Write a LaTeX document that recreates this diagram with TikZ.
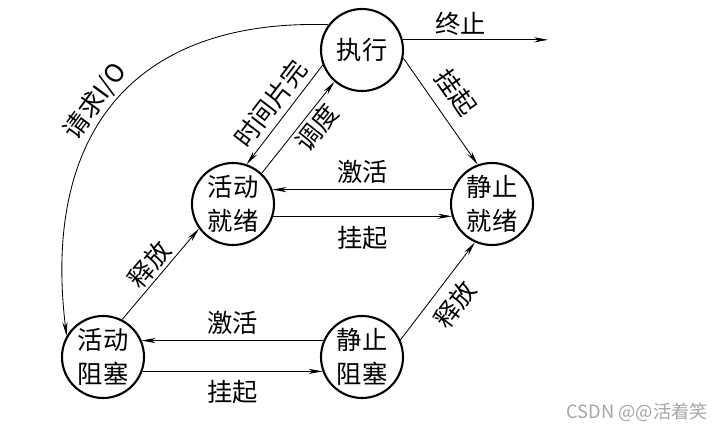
\documentclass[tikz,border=0pt]{standalone}
\usepackage{fontspec}
\setmainfont{Liberation Serif}
\newfontfamily\cjk{Noto Sans CJK SC}
\usetikzlibrary{arrows.meta}

\begin{document}
\begin{tikzpicture}[
  proc/.style={circle, draw, line width=1.5pt, minimum size=2.05cm, inner sep=0pt,
    align=center, font=\cjk\fontsize{18}{24}\selectfont},
  lbl/.style={font=\cjk\fontsize{18}{22}\selectfont, inner sep=2pt},
  arr/.style={-{Stealth[length=3.5mm,width=1.3mm]}, line width=0.6pt}
]
\useasboundingbox (0,0) rectangle (17.85,-10.75);

% Process states
\node[proc] (zx) at (9.05,-1.25) {执行};
\node[proc] (hj) at (5.825,-5.1) {活动\\就绪};
\node[proc] (jj) at (12.3,-5.1) {静止\\就绪};
\node[proc] (hz) at (2.575,-8.925) {活动\\阻塞};
\node[proc] (jz) at (9.05,-8.925) {静止\\阻塞};

% Exit
\coordinate (exit) at (13.7,-1.0);
\draw[arr] (zx.14) -- (zx.14 -| exit) node[lbl, pos=0.4, above=1pt] {终止};

% Running <-> active ready
\draw[arr] (zx.201) -- (hj.71) node[lbl, midway, sloped, above=2pt] {时间片完};
\draw[arr] (hj.47) -- (zx.229) node[lbl, pos=0.6, sloped, below] {调度};
\draw[arr] (zx.-11) -- (jj.110) node[lbl, pos=0.45, sloped, above=6pt] {挂起};

% Ready pair
\draw[arr] (jj.160) -- (hj.20) node[lbl, midway, above=2pt] {激活};
\draw[arr] (hj.-17) -- (jj.197) node[lbl, midway, below=5pt] {挂起};

% Blocked pair
\draw[arr] (jz.157) -- (hz.23) node[lbl, midway, above=2pt] {激活};
\draw[arr] (hz.-20) -- (jz.200) node[lbl, midway, below=4pt] {挂起};

% Release
\draw[arr] (hz.63) -- (hj.216) node[lbl, midway, sloped, above] {释放};
\draw[arr] (jz.24) -- (jj.246) node[lbl, midway, sloped, below=5pt] {释放};

% I/O request
\draw[arr] (zx.143) .. controls +(-4.825,0.15) and +(-0.625,5.125) .. (hz.150)
  node[lbl, pos=0.53, sloped, above] {请求I/O};

\node[font=\cjk\fontsize{13}{15}\selectfont, text=gray!70] (mark) at (15.93,-10.3) {CSDN @@活着笑};

\end{tikzpicture}
\end{document}
